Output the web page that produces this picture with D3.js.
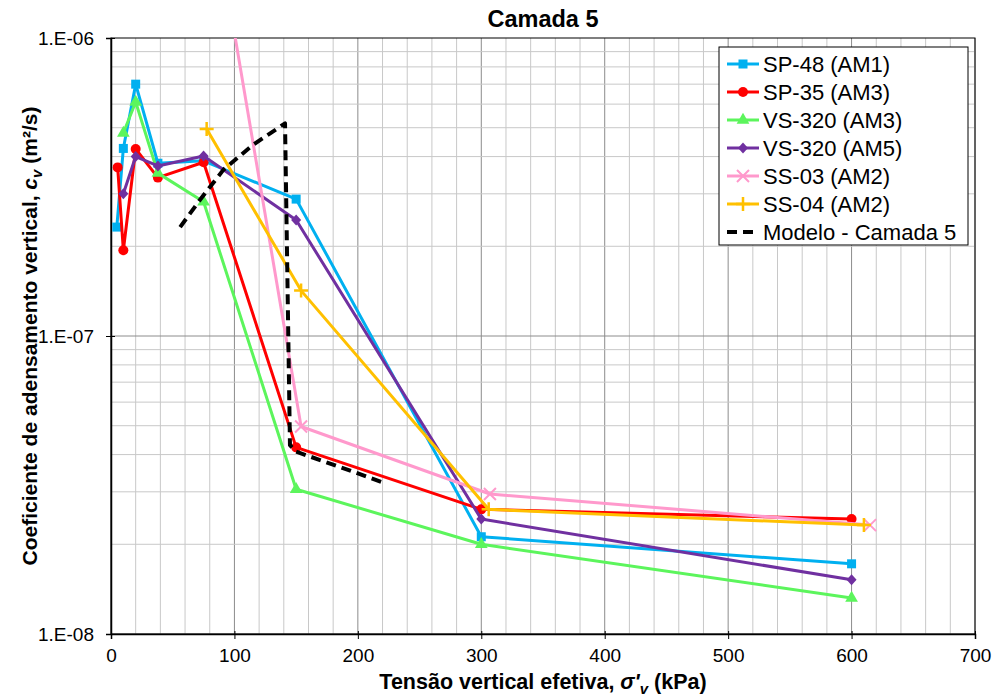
<!DOCTYPE html>
<html>
<head>
<meta charset="utf-8">
<script src="https://cdn.jsdelivr.net/npm/d3@7"></script>
<style>
  body { margin: 0; background: #fff; }
  svg { font-family: "Liberation Sans", Arial, sans-serif; }
</style>
</head>
<body>
<div id="chart"></div>
<script>
// data (x = kPa, y = cv in m²/s)
const sp48X = [4.7, 10, 20, 38, 75, 150, 300, 600];
const sp48Y = [2.32e-7, 4.26e-7, 7.0e-7, 3.8e-7, 3.87e-7, 2.88e-7, 2.12e-8, 1.72e-8];
const sp35X = [5.4, 10, 20, 38, 75, 150, 300, 600];
const sp35Y = [3.68e-7, 1.94e-7, 4.24e-7, 3.4e-7, 3.83e-7, 4.23e-8, 2.62e-8, 2.43e-8];
const vs320am3X = [10, 20, 38, 75, 150, 300, 600];
const vs320am3Y = [4.8e-7, 6.1e-7, 3.52e-7, 2.82e-7, 3.06e-8, 2.0e-8, 1.32e-8];
const vs320am5X = [10, 20, 38, 75, 150, 300, 600];
const vs320am5Y = [3.0e-7, 4.0e-7, 3.72e-7, 4.02e-7, 2.45e-7, 2.43e-8, 1.52e-8];
const ss03X = [77, 154, 307, 615];
const ss03Y = [3.8e-6, 4.97e-8, 2.95e-8, 2.32e-8];
const ss04X = [77.5, 154, 306, 610];
const ss04Y = [4.95e-7, 1.42e-7, 2.62e-8, 2.32e-8];
const modelX = [56, 72, 91, 115, 141, 145, 150, 185, 219];
const modelY = [2.32e-7, 2.86e-7, 3.61e-7, 4.38e-7, 5.17e-7, 4.3e-8, 4.09e-8, 3.64e-8, 3.24e-8];

const xTicks = [0, 100, 200, 300, 400, 500, 600, 700];
const yTicks = [1e-8, 1e-7, 1e-6];

const series = [
    {name: "SP-48 (AM1)", xs: sp48X, ys: sp48Y, color: "#00B0F0", marker: "square"},
    {name: "SP-35 (AM3)", xs: sp35X, ys: sp35Y, color: "#FF0000", marker: "circle"},
    {name: "VS-320 (AM3)", xs: vs320am3X, ys: vs320am3Y, color: "#5CF55C", marker: "triangle"},
    {name: "VS-320 (AM5)", xs: vs320am5X, ys: vs320am5Y, color: "#7030A0", marker: "diamond"},
    {name: "SS-03 (AM2)", xs: ss03X, ys: ss03Y, color: "#FF99CC", marker: "x"},
    {name: "SS-04 (AM2)", xs: ss04X, ys: ss04Y, color: "#FFC000", marker: "plus"},
    {name: "Modelo - Camada 5", xs: modelX, ys: modelY, color: "#000000", marker: "none", dashed: true}
];

const width = 994, height = 698;
const plotL = 111, plotR = 975, plotT = 38, plotB = 634;

const svg = d3.select("#chart").append("svg")
    .attr("width", width)
    .attr("height", height);

const x = d3.scaleLinear().domain([0, 700]).range([plotL, plotR]);
const y = d3.scaleLog().domain([1e-8, 1e-6]).range([plotB, plotT]);

// gridlines
const grid = svg.append("g");
d3.range(0, 701, 20).forEach(v => {
    const major = v % 100 === 0;
    grid.append("line")
        .attr("x1", x(v)).attr("x2", x(v))
        .attr("y1", plotT).attr("y2", plotB)
        .attr("stroke", major ? "#8c8c8c" : "#c8c8c8")
        .attr("stroke-width", 1);
});
[1e-8, 1e-7].forEach(dec => {
    d3.range(1, 10).forEach(k => {
        const v = dec * k;
        grid.append("line")
            .attr("x1", plotL).attr("x2", plotR)
            .attr("y1", y(v)).attr("y2", y(v))
            .attr("stroke", k === 1 ? "#8c8c8c" : "#c8c8c8")
            .attr("stroke-width", 1);
    });
});

// plot border
svg.append("rect")
    .attr("x", plotL).attr("y", plotT)
    .attr("width", plotR - plotL).attr("height", plotB - plotT)
    .attr("fill", "none")
    .attr("stroke", "#000")
    .attr("stroke-width", 1);

// axes
const xAxis = svg.append("g")
    .attr("transform", `translate(0,${plotB})`)
    .call(d3.axisBottom(x).tickValues(xTicks).tickSize(5).tickPadding(10));
const yAxis = svg.append("g")
    .attr("transform", `translate(${plotL},0)`)
    .call(d3.axisLeft(y).tickValues(yTicks).tickSize(5).tickPadding(12)
        .tickFormat(d => "1.E-" + String(Math.round(-Math.log10(d))).padStart(2, "0")));
[xAxis, yAxis].forEach(a => {
    a.select(".domain").attr("stroke", "#000").attr("stroke-width", 1.5);
    a.selectAll(".tick line").attr("stroke", "#000");
    a.selectAll(".tick text").attr("font-size", 19).attr("fill", "#000")
        .attr("font-family", "'Liberation Sans', Arial, sans-serif");
});
xAxis.selectAll(".tick line").attr("y1", -3);
yAxis.selectAll(".tick line").attr("x1", 4);

// clip to plot area
svg.append("clipPath").attr("id", "plotclip")
    .append("rect")
    .attr("x", plotL).attr("y", plotT)
    .attr("width", plotR - plotL).attr("height", plotB - plotT);

const plot = svg.append("g").attr("clip-path", "url(#plotclip)");
const line = d3.line().x(d => x(d[0])).y(d => y(d[1]));

function drawMarker(g, type, color) {
    if (type === "square") {
        g.append("rect").attr("x", -4.5).attr("y", -4.5).attr("width", 9).attr("height", 9).attr("fill", color);
    } else if (type === "circle") {
        g.append("circle").attr("r", 5).attr("fill", color);
    } else if (type === "triangle") {
        g.append("path").attr("d", d3.symbol(d3.symbolTriangle, 70)()).attr("fill", color);
    } else if (type === "diamond") {
        g.append("path").attr("d", "M0,-5.5L5,0L0,5.5L-5,0Z").attr("fill", color);
    } else if (type === "x") {
        g.append("path").attr("d", "M-6,-6L6,6M-6,6L6,-6").attr("stroke", color).attr("stroke-width", 2);
    } else if (type === "plus") {
        g.append("path").attr("d", "M-7,0L7,0M0,-7L0,7").attr("stroke", color).attr("stroke-width", 2.5);
    }
}

series.forEach(s => {
    const pts = s.xs.map((v, i) => [v, s.ys[i]]);
    plot.append("path")
        .datum(pts)
        .attr("d", line)
        .attr("fill", "none")
        .attr("stroke", s.color)
        .attr("stroke-width", s.dashed ? 4 : 3)
        .attr("stroke-dasharray", s.dashed ? "10,6" : null)
        .attr("stroke-linejoin", "round");
    if (s.marker !== "none") {
        pts.forEach(p => {
            const g = plot.append("g").attr("transform", `translate(${x(p[0])},${y(p[1])})`);
            drawMarker(g, s.marker, s.color);
        });
    }
});

// title
svg.append("text")
    .attr("x", (plotL + plotR) / 2).attr("y", 27)
    .attr("text-anchor", "middle")
    .attr("font-size", 23.5).attr("font-weight", "bold")
    .text("Camada 5");

// x axis title
const xt = svg.append("text")
    .attr("x", (plotL + plotR) / 2).attr("y", 689)
    .attr("text-anchor", "middle")
    .attr("font-size", 21.5).attr("font-weight", "bold");
xt.append("tspan").text("Tensão vertical efetiva, ");
xt.append("tspan").attr("font-style", "italic").text("σ'");
xt.append("tspan").attr("font-style", "italic").attr("font-size", 15).attr("dy", 5).text("v");
xt.append("tspan").attr("dy", -5).text(" (kPa)");

// y axis title
const yt = svg.append("text")
    .attr("transform", `translate(37,${(plotT + plotB) / 2}) rotate(-90)`)
    .attr("text-anchor", "middle")
    .attr("font-size", 21).attr("font-weight", "bold");
yt.append("tspan").text("Coeficiente de adensamento vertical, ");
yt.append("tspan").attr("font-style", "italic").text("c");
yt.append("tspan").attr("font-style", "italic").attr("font-size", 15).attr("dy", 5).text("v");
yt.append("tspan").attr("dy", -5).text(" (m²/s)");

// legend
const lg = svg.append("g");
lg.append("rect")
    .attr("x", 719).attr("y", 47)
    .attr("width", 249).attr("height", 198)
    .attr("fill", "#fff").attr("stroke", "#000").attr("stroke-width", 1);
series.forEach((s, i) => {
    const cy = 64 + i * 28;
    lg.append("line")
        .attr("x1", 727).attr("x2", 759)
        .attr("y1", cy).attr("y2", cy)
        .attr("stroke", s.color)
        .attr("stroke-width", s.dashed ? 4 : 3)
        .attr("stroke-dasharray", s.dashed ? "10,6" : null);
    if (s.marker !== "none") {
        const g = lg.append("g").attr("transform", `translate(743,${cy})`);
        drawMarker(g, s.marker, s.color);
    }
    lg.append("text")
        .attr("x", 763).attr("y", cy + 7.5)
        .attr("font-size", 22)
        .text(s.name);
});
</script>
</body>
</html>
